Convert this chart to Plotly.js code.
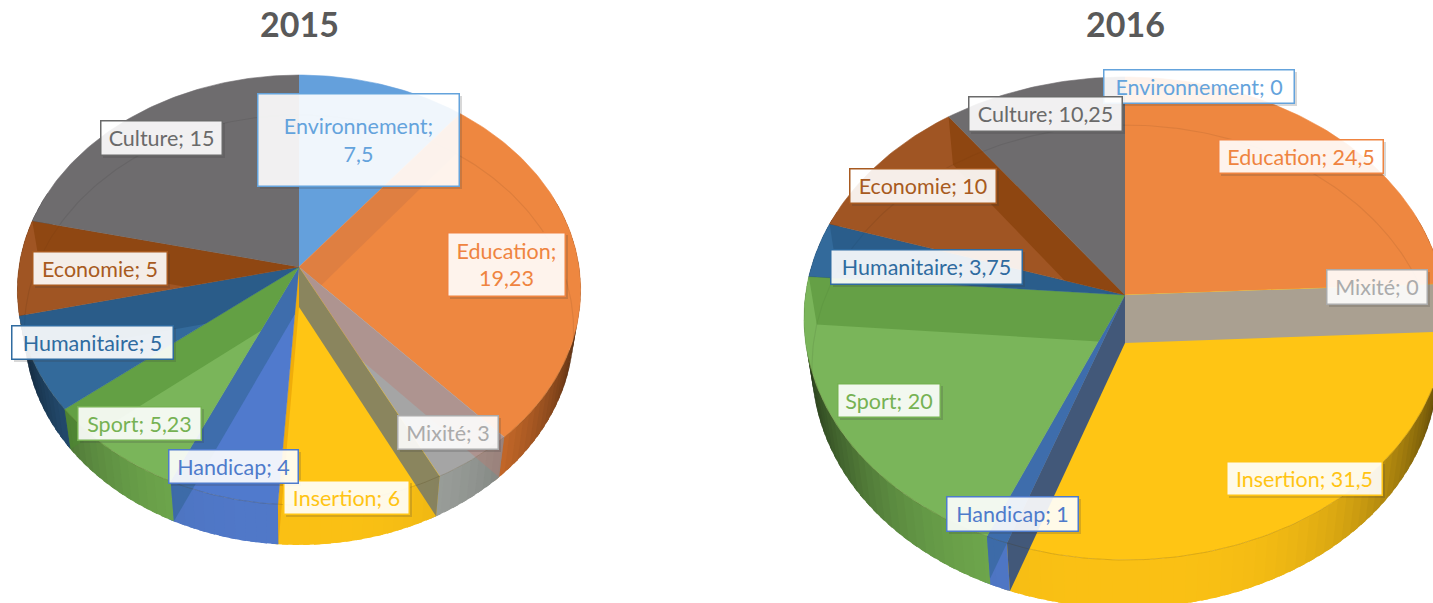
<!DOCTYPE html>
<html><head><meta charset="utf-8">
<script src="https://cdn.plot.ly/plotly-3.0.1.min.js"></script>
<style>html,body{margin:0;padding:0;background:#fff;overflow:hidden}</style></head>
<body><div id="chart" style="width:1433px;height:603px"></div>
<script>
const categories = ["Environnement","Education","Mixité","Insertion","Handicap","Sport","Humanitaire","Economie","Culture"];
const values2015 = [7.5,19.23,3,6,4,5.23,5,5,15];
const values2016 = [0,24.5,0,31.5,1,20,3.75,10,10.25];
const years = ["2015","2016"];

const textColors = ["#64A3DC","#EF8440","#ABABAB","#FFC414","#4E7BCB","#76B253","#2F6BA0","#A85A20","#6A6A6A"];
const topColors = ["#64A0DC","#EE8740","#A5A5A5","#FFC514","#507ACD","#7AB55A","#336A9B","#A05523","#6E6C6E"];
const sideColors = [[91,155,213],[237,125,49],[160,165,160],[250,192,20],[80,120,200],[112,170,78],[50,105,155],[158,72,14],[99,99,99]];
/* tint laid on the inner wall that ends each slice */
const walls2015 = ["rgba(190,110,70,.3)","rgba(190,120,110,.38)","rgba(105,115,115,.78)","rgba(225,150,0,.5)","rgba(50,100,150,.6)","rgba(75,140,45,.5)","rgba(30,75,115,.45)","rgba(130,60,5,.55)","rgba(0,0,0,0)"];
const walls2016 = ["rgba(0,0,0,0)","rgba(170,160,145,1)","rgba(0,0,0,0)","rgba(60,85,125,.97)","rgba(50,100,150,.6)","rgba(80,140,50,.5)","rgba(30,75,115,.4)","rgba(130,60,5,.6)","rgba(0,0,0,0)"];

const pieGeom = [
  {cx:299,cy:267,k:0.107,a:212.5,b:280,depth:40,s:0.975},
  {cx:1125,cy:295,k:0.0973,a:239.2,b:319.5,depth:48,s:0.975}
];
/* label boxes: left, top, right, bottom */
const boxes2015 = [[257,93,459,186],[447,232,565,296],[397,415,498,449],[283,480,409,514],[168,449,298,483],[77,406,201,440],[11,325,173,359],[32,251,167,285],[100,120,222,155]];
const boxes2016 = [[1103,69,1294,103],[1218,139,1383,173],[1326,269,1427,304],[1226,461,1382,495],[946,496,1078,531],[837,383,940,417],[830,249,1022,284],[849,168,996,203],[968,96,1122,131]];
const wrapped2015 = [true,true,false,false,false,false,false,false,false];
const wrapped2016 = [false,false,false,false,false,false,false,false,false];

const rad = d => d*Math.PI/180;
function proj(g,deg,low){
  const X=Math.sin(rad(deg)), t=-Math.cos(rad(deg)), den=1-g.k*t;
  const sc=low?g.s:1;
  return [g.cx+sc*g.b*X/den, g.cy+g.a*t/den+(low?g.depth:0)];
}
function arc(g,from,to,low){
  const pts=[], n=Math.max(1,Math.ceil(Math.abs(to-from)));
  for(let i=0;i<=n;i++) pts.push(proj(g,from+(to-from)*i/n,low));
  return pts;
}
function poly(pts,fill,lineColor,w){
  return {type:'scatter',mode:'lines',x:pts.map(p=>p[0]),y:pts.map(p=>p[1]),fill:'toself',fillcolor:fill,
    line:{color:lineColor||fill,width:w===undefined?0.6:w},hoverinfo:'skip',showlegend:false};
}
function curve(pts,color,w){
  return {type:'scatter',mode:'lines',x:pts.map(p=>p[0]),y:pts.map(p=>p[1]),line:{color:color,width:w},hoverinfo:'skip',showlegend:false};
}
/* keep the part of a polygon on the side of line a->b where inside() is positive */
function clipHalf(pts,a,b,sign){
  const f=p=>sign*((b[0]-a[0])*(p[1]-a[1])-(b[1]-a[1])*(p[0]-a[0]));
  const out=[];
  for(let i=0;i<pts.length;i++){
    const p=pts[i],q=pts[(i+1)%pts.length],fp=f(p),fq=f(q);
    if(fp>=0) out.push(p);
    if((fp>=0)!==(fq>=0)){const u=fp/(fp-fq);out.push([p[0]+u*(q[0]-p[0]),p[1]+u*(q[1]-p[1])]);}
  }
  return out;
}
const traces=[];
function drawPie(values,g,wallCols){
  const total=values.reduce((a,b)=>a+b,0), bounds=[0];
  values.forEach(v=>bounds.push(bounds[bounds.length-1]+v/total*360));
  const sliceAt=d=>{for(let i=0;i<values.length;i++) if(d>=bounds[i]&&d<bounds[i+1]) return i; return values.length-1;};
  /* outer wall, strips cut at slice boundaries, each overlapped by the next */
  const cuts=[];
  for(let d=70;d<=290;d+=2) cuts.push(d);
  bounds.forEach(b=>{if(b>70&&b<290) cuts.push(b);});
  cuts.sort((a,b)=>a-b);
  for(let j=0;j<cuts.length-1;j++){
    const d1=cuts[j],d2=cuts[j+1];
    if(d2-d1<1e-6) continue;
    const m=(d1+d2)/2,i=sliceAt(m),X=Math.abs(Math.sin(rad(m)));
    const sh=1-0.68*Math.pow(X,3.4);
    const c=sideColors[i].map(v=>Math.round(v*sh));
    const col=`rgb(${c[0]},${c[1]},${c[2]})`;
    traces.push(poly(arc(g,d1,d2+1.2,false).concat(arc(g,d2+1.2,d1,true)),col,col,0));
  }
  /* top face */
  values.forEach((v,i)=>{
    if(v===0) return;
    traces.push(poly([[g.cx,g.cy]].concat(arc(g,bounds[i],bounds[i+1],false)),topColors[i]));
  });
  /* back of the lower rim, seen through the face */
  traces.push(curve(arc(g,-105,112,true),'rgba(0,0,0,0.07)',1.2));
  /* inner walls, each kept inside the slice lying under its edge */
  const apex=[g.cx,g.cy];
  values.forEach((v,i)=>{
    const d=bounds[i+1];
    if(wallCols[i]==='rgba(0,0,0,0)') return;
    let host=i;
    if(d<180){host=i+1;while(host<values.length-1&&values[host]===0)host++;}
    const quad=[apex,proj(g,d,false),proj(g,d,true),[g.cx,g.cy+g.depth]];
    const pA=proj(g,bounds[host],false),pB=proj(g,bounds[host+1],false);
    let clipped=clipHalf(quad,apex,pA,1);
    clipped=clipHalf(clipped,apex,pB,-1);
    if(clipped.length>2) traces.push(poly(clipped,wallCols[i],'rgba(0,0,0,0)',0));
  });
  /* front top rim */
  traces.push(curve(arc(g,112,255,false),'rgba(70,50,0,0.2)',1));
}
drawPie(values2015,pieGeom[0],walls2015);
drawPie(values2016,pieGeom[1],walls2016);

const annotations=[], shapes=[];
function addLabels(values,boxes,wrap){
  categories.forEach((name,i)=>{
    const b=boxes[i], val=String(values[i]).replace('.',',');
    shapes.push({type:'rect',xref:'x',yref:'y',x0:b[2],x1:b[2]+3,y0:b[1]+3,y1:b[3]+3,fillcolor:'rgba(60,60,60,.2)',line:{width:0},layer:'above'});
    shapes.push({type:'rect',xref:'x',yref:'y',x0:b[0]+3,x1:b[2],y0:b[3],y1:b[3]+3,fillcolor:'rgba(60,60,60,.2)',line:{width:0},layer:'above'});
    annotations.push({xref:'x',yref:'y',x:(b[0]+b[2])/2,y:(b[1]+b[3])/2,xanchor:'center',yanchor:'middle',
      width:b[2]-b[0]-2,height:b[3]-b[1]-2,align:'center',valign:'middle',borderpad:0,borderwidth:1.5,
      bordercolor:textColors[i],bgcolor:'rgba(255,255,255,0.9)',showarrow:false,
      text:name+';'+(wrap[i]?'<br>':' ')+val,font:{family:'Lato, sans-serif',size:21.5,color:textColors[i]}});
  });
}
addLabels(values2015,boxes2015,wrapped2015);
addLabels(values2016,boxes2016,wrapped2016);
years.forEach((y,i)=>annotations.push({xref:'x',yref:'y',x:pieGeom[i].cx,y:23,xanchor:'center',yanchor:'middle',showarrow:false,
  text:'<b>'+y+'</b>',font:{family:'Lato, sans-serif',size:34,color:'#595959'}}));

Plotly.newPlot('chart',traces,{
  width:1433,height:603,margin:{l:0,r:0,t:0,b:0},paper_bgcolor:'#fff',plot_bgcolor:'#fff',showlegend:false,
  xaxis:{range:[0,1433],visible:false,fixedrange:true},
  yaxis:{range:[603,0],visible:false,fixedrange:true},
  annotations:annotations,shapes:shapes
},{displayModeBar:false,staticPlot:true});
</script></body></html>
